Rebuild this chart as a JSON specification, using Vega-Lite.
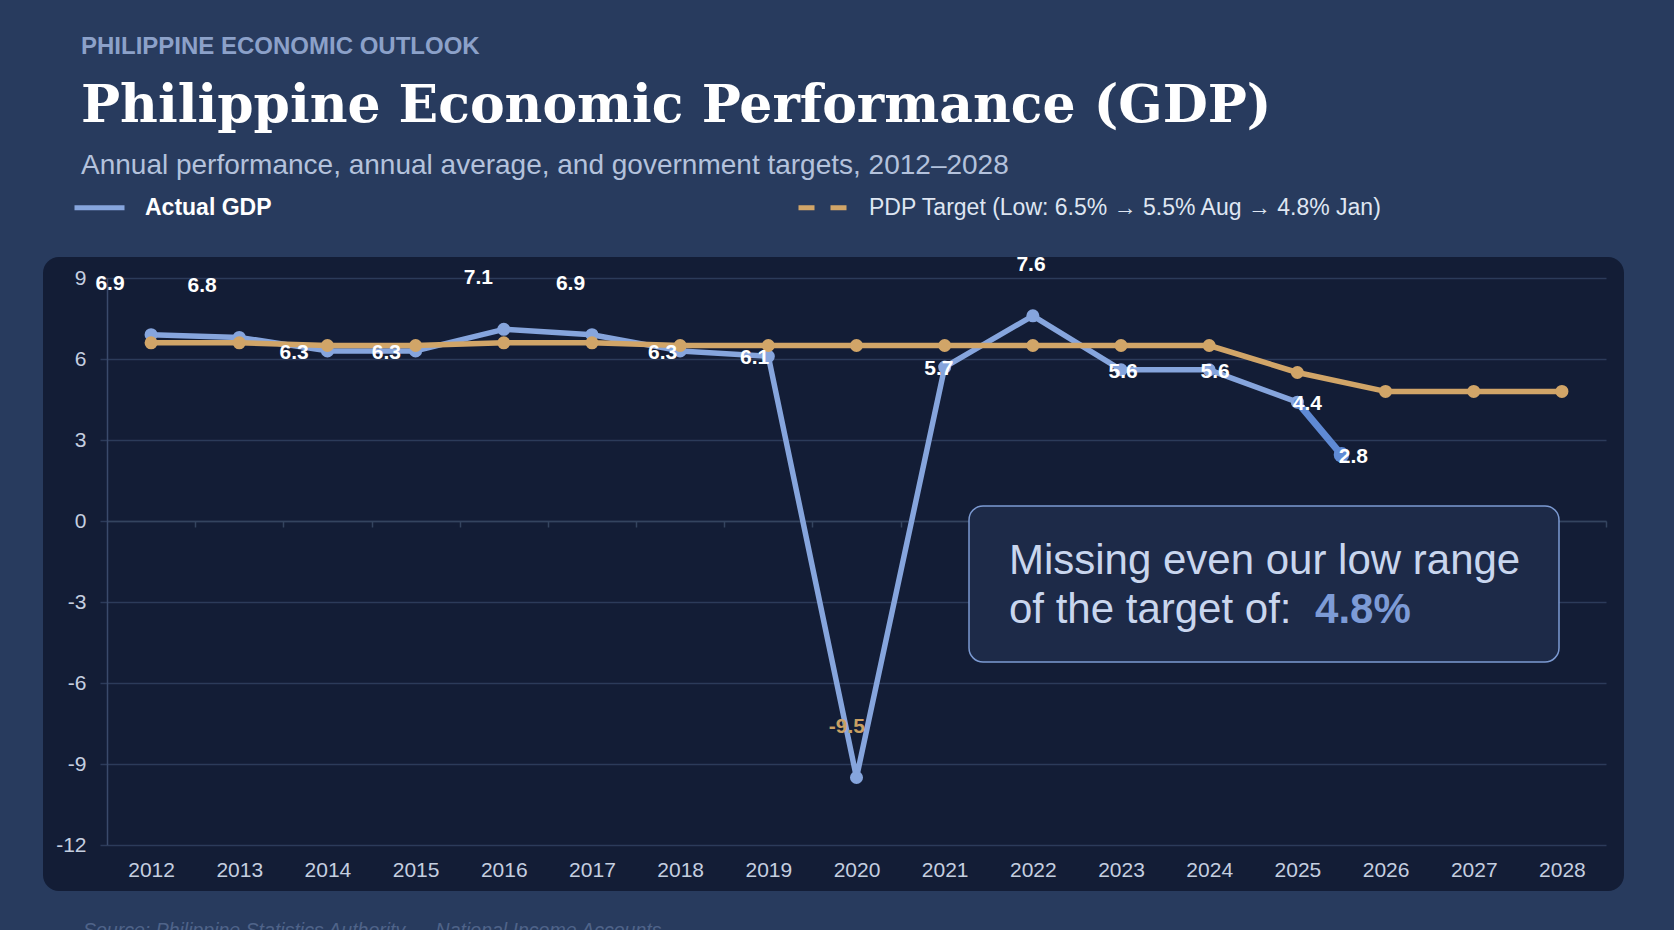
{
  "$schema": "https://vega.github.io/schema/vega-lite/v6.json",
  "width": 1581,
  "height": 634,
  "autosize": {"type": "none"},
  "padding": {"left": 43, "top": 257, "right": 50, "bottom": 39},
  "background": "#283b5e",
  "config": {
    "view": {"fill": "#131d36", "cornerRadius": 16, "stroke": null},
    "font": "Liberation Sans",
    "text": {"font": "Liberation Sans"}
  },
  "data": {
    "values": [
      {"series": "Actual GDP", "year": 2012, "value": 6.9, "label": "6.9"},
      {"series": "Actual GDP", "year": 2013, "value": 6.8, "label": "6.8"},
      {"series": "Actual GDP", "year": 2014, "value": 6.3, "label": "6.3"},
      {"series": "Actual GDP", "year": 2015, "value": 6.3, "label": "6.3"},
      {"series": "Actual GDP", "year": 2016, "value": 7.1, "label": "7.1"},
      {"series": "Actual GDP", "year": 2017, "value": 6.9, "label": "6.9"},
      {"series": "Actual GDP", "year": 2018, "value": 6.3, "label": "6.3"},
      {"series": "Actual GDP", "year": 2019, "value": 6.1, "label": "6.1"},
      {"series": "Actual GDP", "year": 2020, "value": -9.5, "label": "-9.5"},
      {"series": "Actual GDP", "year": 2021, "value": 5.7, "label": "5.7"},
      {"series": "Actual GDP", "year": 2022, "value": 7.6, "label": "7.6"},
      {"series": "Actual GDP", "year": 2023, "value": 5.6, "label": "5.6"},
      {"series": "Actual GDP", "year": 2024, "value": 5.6, "label": "5.6"},
      {"series": "Actual GDP", "year": 2025, "value": 4.4, "label": "4.4"},
      {"series": "Actual GDP", "year": 2025.5, "value": 2.45, "label": "2.8"},
      {"series": "PDP Target (Low: 6.5% → 5.5% Aug → 4.8% Jan)", "year": 2012, "value": 6.6},
      {"series": "PDP Target (Low: 6.5% → 5.5% Aug → 4.8% Jan)", "year": 2013, "value": 6.6},
      {"series": "PDP Target (Low: 6.5% → 5.5% Aug → 4.8% Jan)", "year": 2014, "value": 6.5},
      {"series": "PDP Target (Low: 6.5% → 5.5% Aug → 4.8% Jan)", "year": 2015, "value": 6.5},
      {"series": "PDP Target (Low: 6.5% → 5.5% Aug → 4.8% Jan)", "year": 2016, "value": 6.6},
      {"series": "PDP Target (Low: 6.5% → 5.5% Aug → 4.8% Jan)", "year": 2017, "value": 6.6},
      {"series": "PDP Target (Low: 6.5% → 5.5% Aug → 4.8% Jan)", "year": 2018, "value": 6.5},
      {"series": "PDP Target (Low: 6.5% → 5.5% Aug → 4.8% Jan)", "year": 2019, "value": 6.5},
      {"series": "PDP Target (Low: 6.5% → 5.5% Aug → 4.8% Jan)", "year": 2020, "value": 6.5},
      {"series": "PDP Target (Low: 6.5% → 5.5% Aug → 4.8% Jan)", "year": 2021, "value": 6.5},
      {"series": "PDP Target (Low: 6.5% → 5.5% Aug → 4.8% Jan)", "year": 2022, "value": 6.5},
      {"series": "PDP Target (Low: 6.5% → 5.5% Aug → 4.8% Jan)", "year": 2023, "value": 6.5},
      {"series": "PDP Target (Low: 6.5% → 5.5% Aug → 4.8% Jan)", "year": 2024, "value": 6.5},
      {"series": "PDP Target (Low: 6.5% → 5.5% Aug → 4.8% Jan)", "year": 2025, "value": 5.5},
      {"series": "PDP Target (Low: 6.5% → 5.5% Aug → 4.8% Jan)", "year": 2026, "value": 4.8},
      {"series": "PDP Target (Low: 6.5% → 5.5% Aug → 4.8% Jan)", "year": 2027, "value": 4.8},
      {"series": "PDP Target (Low: 6.5% → 5.5% Aug → 4.8% Jan)", "year": 2028, "value": 4.8}
    ]
  },
  "resolve": {"scale": {"x": "independent"}},
  "layer": [
    {
      "layer": [
        {
          "transform": [{"filter": "datum.series === 'Actual GDP' && datum.year <= 2025"}],
          "mark": {"type": "line", "strokeWidth": 5.5, "strokeJoin": "round", "point": {"filled": true, "size": 170}},
          "encoding": {
            "x": {
              "field": "year", "type": "quantitative",
              "scale": {"domain": [2011.5, 2028.5], "range": [64, 1563], "nice": false, "zero": false},
              "axis": {
                "values": [2012, 2013, 2014, 2015, 2016, 2017, 2018, 2019, 2020, 2021, 2022, 2023, 2024, 2025, 2026, 2027, 2028],
                "format": "d", "title": null, "grid": false, "offset": -370,
                "tickOffset": 44.088, "labelOffset": -44.088, "tickSize": 6, "tickWidth": 1.5, "tickColor": "#34445f",
                "domainColor": "#34445f", "domainWidth": 1.5, "labelPadding": 332,
                "labelFont": "Liberation Sans", "labelFontSize": 21, "labelColor": "#c5cfe0",
                "labelFlush": false, "labelOverlap": false
              }
            },
            "y": {
              "field": "value", "type": "quantitative",
              "scale": {"domain": [-12, 9], "range": [588, 21], "nice": false, "zero": false},
              "axis": {
                "values": [-12, -9, -6, -3, 0, 3, 6, 9], "title": null, "offset": -64,
                "labelExpr": "replace(datum.label, '\u2212', '-')",
                "grid": true, "gridColor": "#2c3b5a", "gridWidth": 1.5,
                "domainColor": "#3a4a6b", "domainWidth": 1.5, "tickColor": "#2c3b5a", "tickWidth": 1.5, "tickSize": 7,
                "labelPadding": 14, "labelFont": "Liberation Sans", "labelFontSize": 21, "labelColor": "#c5cfe0"
              }
            },
            "color": {
              "field": "series", "type": "nominal",
              "scale": {"domain": ["Actual GDP", "PDP Target (Low: 6.5% → 5.5% Aug → 4.8% Jan)"], "range": ["#86a5dd", "#d1a568"]},
              "legend": {
                "orient": "none", "legendX": 29, "legendY": -77, "direction": "horizontal", "title": null,
                "padding": 0, "symbolType": "stroke", "symbolSize": 2500, "symbolStrokeWidth": 5,
                "labelFont": "Liberation Sans", "labelFontSize": 23, "labelColor": "#dfe6f2", "labelOffset": 18, "labelLimit": 800,
                "columnPadding": 516,
                "encode": {
                  "labels": {"update": {
                    "fontWeight": {"signal": "datum.label === 'Actual GDP' ? 'bold' : 'normal'"},
                    "fill": {"signal": "datum.label === 'Actual GDP' ? '#ffffff' : '#dfe6f2'"}
                  }},
                  "symbols": {"update": {
                    "strokeDash": {"signal": "datum.label === 'Actual GDP' ? [] : [16, 16]"}
                  }}
                }
              }
            }
          }
        },
        {
          "transform": [{"filter": "datum.series === 'Actual GDP' && datum.year >= 2025"}],
          "mark": {"type": "line", "color": "#5f8ad5", "strokeWidth": 7, "strokeCap": "round"},
          "encoding": {
            "x": {"field": "year", "type": "quantitative"},
            "y": {"field": "value", "type": "quantitative"}
          }
        },
        {
          "transform": [{"filter": "datum.series === 'Actual GDP' && datum.year > 2025"}],
          "mark": {"type": "point", "filled": true, "opacity": 1, "color": "#5f8ad5", "size": 240},
          "encoding": {
            "x": {"field": "year", "type": "quantitative"},
            "y": {"field": "value", "type": "quantitative"}
          }
        },
        {
          "transform": [{"filter": "datum.series !== 'Actual GDP'"}],
          "mark": {"type": "line", "strokeWidth": 5.5, "strokeJoin": "round", "point": {"filled": true, "size": 170}},
          "encoding": {
            "x": {"field": "year", "type": "quantitative"},
            "y": {"field": "value", "type": "quantitative"},
            "color": {"field": "series", "type": "nominal"}
          }
        },
        {
          "data": {"values": [{"note": "box"}]},
          "mark": {"type": "rect", "fill": "#1d2a48", "stroke": "#7c9ad2", "strokeWidth": 1.5, "cornerRadius": 14},
          "encoding": {
            "x": {"datum": 2021.276, "type": "quantitative"},
            "x2": {"datum": 2027.967},
            "y": {"datum": 0.556, "type": "quantitative"},
            "y2": {"datum": -5.222}
          }
        },
        {
          "data": {"values": [{"lines": ["Missing even our low range", "of the target of:"]}]},
          "mark": {"type": "text", "align": "left", "baseline": "alphabetic", "fontSize": 42, "lineHeight": 49, "color": "#c9d6ee"},
          "encoding": {
            "x": {"datum": 2021.729, "type": "quantitative"},
            "y": {"datum": -1.963, "type": "quantitative"},
            "text": {"field": "lines"}
          }
        },
        {
          "data": {"values": [{"text": "4.8%"}]},
          "mark": {"type": "text", "align": "left", "baseline": "alphabetic", "fontSize": 42, "fontWeight": "bold", "color": "#7d9bd6"},
          "encoding": {
            "x": {"datum": 2025.2, "type": "quantitative"},
            "y": {"datum": -3.778, "type": "quantitative"},
            "text": {"field": "text"}
          }
        },
        {
          "data": {"values": [{"text": "PHILIPPINE ECONOMIC OUTLOOK"}]},
          "mark": {"type": "text", "align": "left", "baseline": "alphabetic", "fontSize": 24, "fontWeight": "bold", "color": "#8ca1c9"},
          "encoding": {
            "x": {"datum": 2011.205, "type": "quantitative"},
            "y": {"datum": 17.296, "type": "quantitative"},
            "text": {"field": "text"}
          }
        },
        {
          "data": {"values": [{"text": "Philippine Economic Performance (GDP)"}]},
          "mark": {"type": "text", "align": "left", "baseline": "alphabetic", "font": "DejaVu Serif", "fontSize": 52, "fontWeight": "bold", "color": "#ffffff"},
          "encoding": {
            "x": {"datum": 2011.205, "type": "quantitative"},
            "y": {"datum": 14.778, "type": "quantitative"},
            "text": {"field": "text"}
          }
        },
        {
          "data": {"values": [{"text": "Annual performance, annual average, and government targets, 2012–2028"}]},
          "mark": {"type": "text", "align": "left", "baseline": "alphabetic", "fontSize": 28, "color": "#b4c2dc"},
          "encoding": {
            "x": {"datum": 2011.205, "type": "quantitative"},
            "y": {"datum": 12.84, "type": "quantitative"},
            "text": {"field": "text"}
          }
        },
        {
          "data": {"values": [{"text": "Source: Philippine Statistics Authority — National Income Accounts"}]},
          "mark": {"type": "text", "align": "left", "baseline": "alphabetic", "fontSize": 19.5, "fontStyle": "italic", "color": "#4f6389"},
          "encoding": {
            "x": {"datum": 2011.228, "type": "quantitative"},
            "y": {"datum": -15.41, "type": "quantitative"},
            "text": {"field": "text"}
          }
        }
      ]
    },
    {
      "transform": [{"filter": "datum.series === 'Actual GDP'"}],
      "layer": [
        {
          "transform": [{"filter": "datum.value > 6.5 || datum.value < 0"}],
          "mark": {"type": "text", "dy": -51, "fontSize": 21, "fontWeight": "bold", "baseline": "middle", "align": "center"},
          "encoding": {
            "x": {"field": "year", "type": "quantitative", "scale": {"domain": [2012, 2028], "range": [67, 1540.6], "nice": false, "zero": false}, "axis": null},
            "y": {"field": "value", "type": "quantitative"},
            "text": {"field": "label"},
            "color": {"condition": {"test": "datum.value < 0", "value": "#c9a063"}, "value": "#ffffff"}
          }
        },
        {
          "transform": [{"filter": "!(datum.value > 6.5 || datum.value < 0)"}],
          "mark": {"type": "text", "dy": 2, "fontSize": 21, "fontWeight": "bold", "baseline": "middle", "align": "center", "color": "#ffffff"},
          "encoding": {
            "x": {"field": "year", "type": "quantitative"},
            "y": {"field": "value", "type": "quantitative"},
            "text": {"field": "label"}
          }
        }
      ]
    }
  ]
}
